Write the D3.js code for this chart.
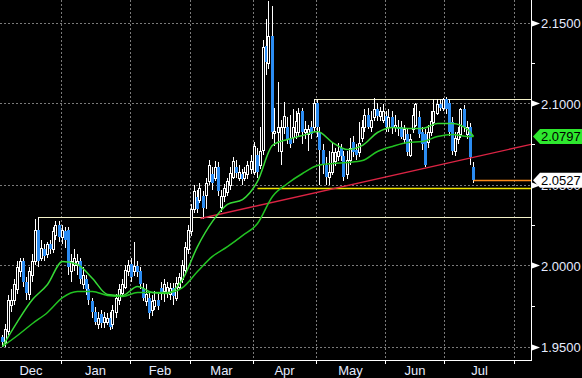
<!DOCTYPE html>
<html>
<head>
<meta charset="utf-8">
<script src="https://cdn.jsdelivr.net/npm/d3@7"></script>
<style>
  html, body { margin: 0; padding: 0; background: #000; }
  svg { display: block; font-family: 'Liberation Sans', Arial, sans-serif; }
</style>
</head>
<body>
<script>
/* global d3 */
(function () {
  'use strict'

  // Trading days shown on the axis (weekdays, minus holidays)
  var firstDay = '2018-12-04'
  var endDay = '2019-08-09'
  var holidays = ['2019-04-19']

  // Daily bars, one per trading day
  var opens = [
    1.9556, 1.9525, 1.9593, 1.9759, 1.9790, 1.9852, 1.9963, 2.0025, 1.9901, 1.9821,
    1.9944, 2.0025, 2.0222, 2.0049, 2.0099, 2.0068, 2.0130, 2.0099, 2.0191, 2.0247,
    2.0173, 2.0210, 2.0222, 1.9963, 2.0006, 2.0000, 2.0025, 1.9883, 1.9914, 1.9852,
    1.9778, 1.9716, 1.9636, 1.9698, 1.9654, 1.9654, 1.9679, 1.9636, 1.9716, 1.9790,
    1.9833, 1.9870, 1.9963, 2.0012, 1.9963, 1.9994, 1.9963, 1.9864, 1.9778, 1.9802,
    1.9728, 1.9747, 1.9790, 1.9864, 1.9840, 1.9833, 1.9827, 1.9864, 1.9802, 1.9870,
    1.9914, 1.9975, 2.0099, 2.0210, 2.0346, 2.0420, 2.0407, 2.0432, 2.0438, 2.0519,
    2.0562, 2.0543, 2.0611, 2.0364, 2.0426, 2.0451, 2.0500, 2.0549, 2.0605, 2.0543,
    2.0562, 2.0543, 2.0562, 2.0593, 2.0580, 2.0685, 2.0623, 2.0716, 2.1352, 2.1253,
    2.1414, 2.0815, 2.0821, 2.0704, 2.0852, 2.0852, 2.0778, 2.0796, 2.0827, 2.0827,
    2.0951, 2.0821, 2.0809, 2.0852, 2.0852, 2.1006, 2.0827, 2.0716, 2.0623, 2.0549,
    2.0580, 2.0642, 2.0673, 2.0728, 2.0673, 2.0562, 2.0654, 2.0765, 2.0716, 2.0698,
    2.0790, 2.0852, 2.0932, 2.0852, 2.0914, 2.0963, 2.0920, 2.0901, 2.0920, 2.0858,
    2.0914, 2.0852, 2.0858, 2.0858, 2.0778, 2.0809, 2.0685, 2.0840, 2.0870, 2.0914,
    2.0821, 2.0809, 2.0765, 2.0827, 2.0883, 2.0944, 2.0994, 2.0975, 2.1025, 2.1006,
    2.0883, 2.0704, 2.0778, 2.0809, 2.0963, 2.0809, 2.0858, 2.0611
  ]
  var highs = [
    1.9574, 1.9636, 1.9815, 1.9852, 1.9914, 2.0025, 2.0049, 2.0049, 1.9926, 1.9988,
    2.0068, 2.0284, 2.0302, 2.0160, 2.0130, 2.0148, 2.0160, 2.0235, 2.0272, 2.0272,
    2.0247, 2.0235, 2.0235, 2.0068, 2.0099, 2.0068, 2.0049, 1.9988, 1.9944, 1.9883,
    1.9802, 1.9741, 1.9716, 1.9728, 1.9716, 1.9704, 1.9716, 1.9759, 1.9827, 1.9883,
    1.9914, 2.0006, 2.0037, 2.0049, 2.0148, 2.0025, 1.9988, 1.9889, 1.9883, 1.9840,
    1.9815, 1.9840, 1.9821, 1.9901, 1.9914, 1.9901, 1.9889, 1.9889, 1.9926, 1.9951,
    2.0037, 2.0148, 2.0247, 2.0377, 2.0494, 2.0469, 2.0512, 2.0457, 2.0543, 2.0654,
    2.0605, 2.0642, 2.0636, 2.0469, 2.0506, 2.0543, 2.0605, 2.0667, 2.0654, 2.0623,
    2.0593, 2.0605, 2.0642, 2.0685, 2.0765, 2.0728, 2.0852, 2.1395, 2.1519, 2.1630,
    2.1599, 2.0975, 2.1130, 2.0901, 2.1012, 2.0914, 2.0932, 2.0963, 2.0951, 2.0975,
    2.0975, 2.0889, 2.0870, 2.0889, 2.1025, 2.1025, 2.0852, 2.0747, 2.0667, 2.0704,
    2.0765, 2.0728, 2.0759, 2.0753, 2.0704, 2.0704, 2.0790, 2.0802, 2.0747, 2.0883,
    2.0901, 2.0963, 2.0975, 2.0951, 2.1037, 2.1000, 2.0981, 2.0994, 2.0951, 2.0963,
    2.0951, 2.0932, 2.0901, 2.0889, 2.0870, 2.0840, 2.0809, 2.0975, 2.1006, 2.0951,
    2.0852, 2.0840, 2.0870, 2.0951, 2.1025, 2.1025, 2.1025, 2.1037, 2.1043, 2.1025,
    2.0914, 2.0827, 2.0852, 2.0975, 2.0988, 2.0889, 2.0877, 2.0636
  ]
  var lows = [
    1.9494, 1.9500, 1.9568, 1.9716, 1.9759, 1.9821, 1.9926, 1.9870, 1.9790, 1.9790,
    1.9901, 2.0006, 1.9988, 2.0025, 2.0025, 2.0049, 2.0074, 2.0080, 2.0160, 2.0148,
    2.0130, 2.0111, 1.9944, 1.9901, 1.9963, 1.9944, 1.9883, 1.9852, 1.9815, 1.9759,
    1.9679, 1.9630, 1.9605, 1.9617, 1.9617, 1.9630, 1.9599, 1.9605, 1.9679, 1.9759,
    1.9815, 1.9852, 1.9938, 1.9901, 1.9938, 1.9926, 1.9852, 1.9778, 1.9753, 1.9667,
    1.9691, 1.9728, 1.9728, 1.9790, 1.9772, 1.9802, 1.9790, 1.9759, 1.9778, 1.9852,
    1.9895, 1.9944, 2.0068, 2.0185, 2.0321, 2.0321, 2.0383, 2.0290, 2.0346, 2.0494,
    2.0469, 2.0519, 2.0432, 2.0333, 2.0395, 2.0426, 2.0469, 2.0531, 2.0543, 2.0519,
    2.0500, 2.0519, 2.0531, 2.0562, 2.0556, 2.0543, 2.0593, 2.0685, 2.1179, 2.1210,
    2.0778, 2.0735, 2.0698, 2.0623, 2.0809, 2.0747, 2.0728, 2.0759, 2.0778, 2.0802,
    2.0747, 2.0778, 2.0704, 2.0778, 2.0827, 2.0796, 2.0500, 2.0562, 2.0494, 2.0500,
    2.0556, 2.0617, 2.0642, 2.0642, 2.0519, 2.0531, 2.0623, 2.0667, 2.0654, 2.0667,
    2.0765, 2.0821, 2.0840, 2.0821, 2.0889, 2.0889, 2.0895, 2.0877, 2.0821, 2.0827,
    2.0809, 2.0827, 2.0802, 2.0778, 2.0747, 2.0673, 2.0667, 2.0815, 2.0852, 2.0790,
    2.0716, 2.0605, 2.0728, 2.0802, 2.0864, 2.0926, 2.0951, 2.0951, 2.0938, 2.0802,
    2.0685, 2.0679, 2.0747, 2.0790, 2.0827, 2.0778, 2.0623, 2.0512
  ]
  var closes = [
    1.9525, 1.9605, 1.9790, 1.9790, 1.9883, 1.9988, 2.0025, 1.9901, 1.9833, 1.9963,
    2.0025, 2.0222, 2.0025, 2.0111, 2.0056, 2.0130, 2.0099, 2.0210, 2.0253, 2.0173,
    2.0222, 2.0160, 1.9988, 2.0025, 2.0049, 2.0025, 1.9914, 1.9944, 1.9852, 1.9790,
    1.9710, 1.9654, 1.9679, 1.9648, 1.9685, 1.9679, 1.9623, 1.9728, 1.9802, 1.9852,
    1.9883, 1.9975, 2.0000, 1.9932, 1.9994, 1.9957, 1.9883, 1.9802, 1.9821, 1.9704,
    1.9778, 1.9790, 1.9753, 1.9821, 1.9883, 1.9870, 1.9864, 1.9809, 1.9895, 1.9926,
    2.0006, 2.0117, 2.0222, 2.0346, 2.0457, 2.0346, 2.0481, 2.0358, 2.0512, 2.0623,
    2.0512, 2.0611, 2.0457, 2.0432, 2.0481, 2.0519, 2.0574, 2.0642, 2.0574, 2.0580,
    2.0531, 2.0580, 2.0623, 2.0642, 2.0735, 2.0580, 2.0704, 2.1346, 2.1259, 2.1414,
    2.0821, 2.0833, 2.0858, 2.0852, 2.0920, 2.0778, 2.0747, 2.0852, 2.0889, 2.0944,
    2.0827, 2.0840, 2.0840, 2.0809, 2.1006, 2.0852, 2.0716, 2.0623, 2.0549, 2.0580,
    2.0698, 2.0698, 2.0704, 2.0673, 2.0549, 2.0654, 2.0728, 2.0698, 2.0685, 2.0759,
    2.0858, 2.0932, 2.0858, 2.0901, 2.0963, 2.0920, 2.0951, 2.0951, 2.0852, 2.0914,
    2.0852, 2.0870, 2.0840, 2.0796, 2.0840, 2.0698, 2.0778, 2.0932, 2.0994, 2.0809,
    2.0747, 2.0623, 2.0827, 2.0889, 2.0951, 2.0994, 2.0975, 2.1025, 2.0963, 2.0821,
    2.0704, 2.0790, 2.0821, 2.0963, 2.0852, 2.0858, 2.0667, 2.0527
  ]

  // Moving averages at every fifth bar
  var maIdx = [0, 5, 10, 15, 20, 25, 30, 35, 40, 45, 50, 55, 60, 65, 70, 75, 80,
    85, 90, 95, 100, 105, 110, 115, 120, 125, 130, 135, 140, 145, 150, 155, 157]
  var fastMA = [1.9500, 1.9654, 1.9790, 1.9883, 2.0025, 2.0006, 1.9920, 1.9821,
    1.9815, 1.9870, 1.9833, 1.9827, 1.9914, 2.0117, 2.0272, 2.0377, 2.0407,
    2.0519, 2.0741, 2.0778, 2.0802, 2.0827, 2.0759, 2.0716, 2.0741, 2.0821,
    2.0852, 2.0846, 2.0846, 2.0877, 2.0877, 2.0840, 2.0796]
  var slowMA = [1.9500, 1.9568, 1.9642, 1.9710, 1.9802, 1.9840, 1.9840, 1.9815,
    1.9809, 1.9833, 1.9833, 1.9833, 1.9864, 1.9963, 2.0056, 2.0117, 2.0185,
    2.0259, 2.0426, 2.0506, 2.0568, 2.0617, 2.0630, 2.0636, 2.0648, 2.0704,
    2.0735, 2.0759, 2.0765, 2.0796, 2.0809, 2.0796, 2.0797]

  // Drawn levels: [start bar, price]
  var whiteLevels = [[12, 2.0302], [104, 2.1025]]
  var yellowLevel = [85, 2.0481]
  var trendLine = [[66, 2.0290], [176.5, 2.0749]]

  // Price axis
  var yTicks = [1.95, 2.00, 2.05, 2.10, 2.15]
  var yMinorTicks = [1.975, 2.025, 2.075, 2.125]

  // Dimensions
  var w = 582
  var h = 378
  var plotW = 531
  var plotH = 360
  var textColor = '#e6ecff'
  var upColor = '#ffffff'
  var downColor = '#2b8cf2'

  // Trading day list
  var fmt = d3.timeFormat('%Y-%m-%d')
  var parse = d3.timeParse('%Y-%m-%d')
  var days = d3.timeDay.range(parse(firstDay), parse(endDay)).filter(function (d) {
    return d.getDay() !== 0 && d.getDay() !== 6 && holidays.indexOf(fmt(d)) < 0
  })

  var bars = closes.map(function (c, i) {
    return { i: i, date: days[i], o: opens[i], h: highs[i], l: lows[i], c: c }
  })

  // Scales
  var x = d3.scaleLinear()
    .domain([-0.5, days.length - 0.5])
    .range([1, plotW + 1])
  var y = d3.scaleLinear()
    .domain([1.95, 2.15])
    .range([346.5, 22.5])

  // Month groups
  var months = []
  days.forEach(function (d, i) {
    var last = months[months.length - 1]
    if (!last || last.month !== d.getMonth()) {
      months.push({ month: d.getMonth(), date: d, first: i, last: i })
    } else {
      last.last = i
    }
  })

  var svg = d3.select('body').append('svg')
    .attr('width', w)
    .attr('height', h)
    .style('background', '#000')

  svg.append('defs').append('clipPath')
    .attr('id', 'plot')
    .append('rect')
      .attr('width', plotW)
      .attr('height', plotH)

  // Grid
  var grid = svg.append('g')
    .attr('stroke', '#7a7a7a')
    .attr('stroke-dasharray', '2,2')
    .attr('shape-rendering', 'crispEdges')
  grid.selectAll('.hg')
    .data(yTicks)
    .enter().append('line')
      .attr('x1', 0)
      .attr('x2', plotW)
      .attr('y1', function (d) { return Math.round(y(d)) + 0.5 })
      .attr('y2', function (d) { return Math.round(y(d)) + 0.5 })
  grid.selectAll('.vg')
    .data(months.slice(1))
    .enter().append('line')
      .attr('x1', function (d) { return Math.floor(x(d.first - 0.5)) + 0.5 })
      .attr('x2', function (d) { return Math.floor(x(d.first - 0.5)) + 0.5 })
      .attr('y1', 0)
      .attr('y2', plotH)

  var plot = svg.append('g').attr('clip-path', 'url(#plot)')

  // Level lines
  plot.selectAll('.lvl')
    .data(whiteLevels)
    .enter().append('line')
      .attr('x1', function (d) { return x(d[0]) })
      .attr('x2', plotW)
      .attr('y1', function (d) { return Math.round(y(d[1])) + 0.5 })
      .attr('y2', function (d) { return Math.round(y(d[1])) + 0.5 })
      .attr('stroke', '#f4f2c8')
      .attr('stroke-width', 1)
  plot.append('line')
    .attr('x1', x(yellowLevel[0]))
    .attr('x2', plotW)
    .attr('y1', Math.round(y(yellowLevel[1])) + 0.5)
    .attr('y2', Math.round(y(yellowLevel[1])) + 0.5)
    .attr('stroke', '#f2e600')
    .attr('stroke-width', 1.3)

  // Candles
  var candle = plot.selectAll('.bar')
    .data(bars)
    .enter().append('g')
      .attr('shape-rendering', 'crispEdges')
  candle.append('line')
    .attr('x1', function (d) { return Math.floor(x(d.i) - 1.5) + 1.5 })
    .attr('x2', function (d) { return Math.floor(x(d.i) - 1.5) + 1.5 })
    .attr('y1', function (d) { return Math.round(y(d.h)) })
    .attr('y2', function (d) { return Math.round(y(d.l)) })
    .attr('stroke', upColor)
  candle.append('rect')
    .attr('x', function (d) {
      return Math.floor(x(d.i) - 1.5) + (d.c >= d.o ? 0.5 : 0)
    })
    .attr('y', function (d) {
      var top = Math.round(y(Math.max(d.o, d.c)))
      return d.c >= d.o ? top + 0.5 : top
    })
    .attr('width', function (d) { return d.c >= d.o ? 2 : 3 })
    .attr('height', function (d) {
      var hh = Math.round(y(Math.min(d.o, d.c))) - Math.round(y(Math.max(d.o, d.c)))
      return Math.max(1, hh)
    })
    .attr('fill', function (d) { return d.c >= d.o ? '#000' : downColor })
    .attr('stroke', function (d) { return d.c >= d.o ? upColor : 'none' })

  // Trend line
  plot.append('line')
    .attr('x1', x(trendLine[0][0]))
    .attr('y1', y(trendLine[0][1]))
    .attr('x2', x(trendLine[1][0]))
    .attr('y2', y(trendLine[1][1]))
    .attr('stroke', '#dc2444')
    .attr('stroke-width', 1.4)

  // Moving averages
  var maLine = function (values) {
    return d3.line()
      .x(function (d, k) { return x(maIdx[k]) })
      .y(function (d) { return y(d) })
      .curve(d3.curveMonotoneX)(values)
  }
  plot.append('path')
    .attr('d', maLine(slowMA))
    .attr('fill', 'none')
    .attr('stroke', '#22c322')
    .attr('stroke-width', 1.5)
  plot.append('path')
    .attr('d', maLine(fastMA))
    .attr('fill', 'none')
    .attr('stroke', '#36d936')
    .attr('stroke-width', 1.5)

  // Last price line
  var lastBar = bars[bars.length - 1]
  plot.append('line')
    .attr('x1', x(lastBar.i))
    .attr('x2', plotW)
    .attr('y1', Math.round(y(lastBar.c)) + 0.5)
    .attr('y2', Math.round(y(lastBar.c)) + 0.5)
    .attr('stroke', '#ff8c1a')
    .attr('stroke-width', 1.3)

  // Axes lines
  svg.append('line')
    .attr('x1', plotW + 0.5).attr('x2', plotW + 0.5)
    .attr('y1', 0).attr('y2', plotH)
    .attr('stroke', '#fff')
    .attr('shape-rendering', 'crispEdges')
  svg.append('line')
    .attr('x1', 0).attr('x2', plotW + 1)
    .attr('y1', plotH + 0.5).attr('y2', plotH + 0.5)
    .attr('stroke', '#fff')
    .attr('shape-rendering', 'crispEdges')

  // Month ticks and labels
  svg.selectAll('.mt')
    .data(months.slice(1))
    .enter().append('line')
      .attr('x1', function (d) { return Math.floor(x(d.first - 0.5)) + 0.5 })
      .attr('x2', function (d) { return Math.floor(x(d.first - 0.5)) + 0.5 })
      .attr('y1', plotH)
      .attr('y2', plotH + 4)
      .attr('stroke', '#fff')
      .attr('shape-rendering', 'crispEdges')
  svg.selectAll('.ml')
    .data(months.filter(function (d) { return d.last - d.first >= 10 }))
    .enter().append('text')
      .attr('x', function (d) { return x((d.first + d.last) / 2) })
      .attr('y', 375)
      .attr('text-anchor', 'middle')
      .attr('fill', textColor)
      .style('font-size', '13px')
      .text(function (d) { return d3.timeFormat('%b')(d.date) })

  // Price ticks
  svg.selectAll('.minor')
    .data(yMinorTicks)
    .enter().append('line')
      .attr('x1', plotW)
      .attr('x2', plotW + 4)
      .attr('y1', function (d) { return Math.round(y(d)) + 0.5 })
      .attr('y2', function (d) { return Math.round(y(d)) + 0.5 })
      .attr('stroke', '#fff')
      .attr('shape-rendering', 'crispEdges')
  svg.selectAll('.tri')
    .data(yTicks)
    .enter().append('path')
      .attr('d', function (d) {
        var ty = Math.round(y(d)) + 0.5
        return 'M' + (plotW + 1) + ',' + (ty - 3) + 'L' + (plotW + 9) + ',' + ty +
          'L' + (plotW + 1) + ',' + (ty + 3) + 'Z'
      })
      .attr('fill', '#fff')
  svg.selectAll('.yl')
    .data(yTicks)
    .enter().append('text')
      .attr('x', 541)
      .attr('y', function (d) { return y(d) + 5 })
      .attr('fill', textColor)
      .style('font-size', '13px')
      .text(function (d) { return d3.format('.4f')(d) })

  // Value tags
  var tags = [
    { value: slowMA[slowMA.length - 1], fill: '#2ee82e' },
    { value: lastBar.c, fill: '#ffffff' }
  ]
  var tag = svg.selectAll('.tag')
    .data(tags)
    .enter().append('g')
  tag.append('path')
    .attr('d', function (d) {
      var ty = y(d.value)
      return 'M' + (plotW + 2) + ',' + ty + 'L' + (plotW + 9) + ',' + (ty - 7.5) +
        'L' + w + ',' + (ty - 7.5) + 'L' + w + ',' + (ty + 7.5) +
        'L' + (plotW + 9) + ',' + (ty + 7.5) + 'Z'
    })
    .attr('fill', function (d) { return d.fill })
  tag.append('text')
    .attr('x', 541)
    .attr('y', function (d) { return y(d.value) + 5 })
    .attr('fill', '#000')
    .style('font-size', '13px')
    .text(function (d) { return d3.format('.4f')(d.value) })
}())
</script>
</body>
</html>
